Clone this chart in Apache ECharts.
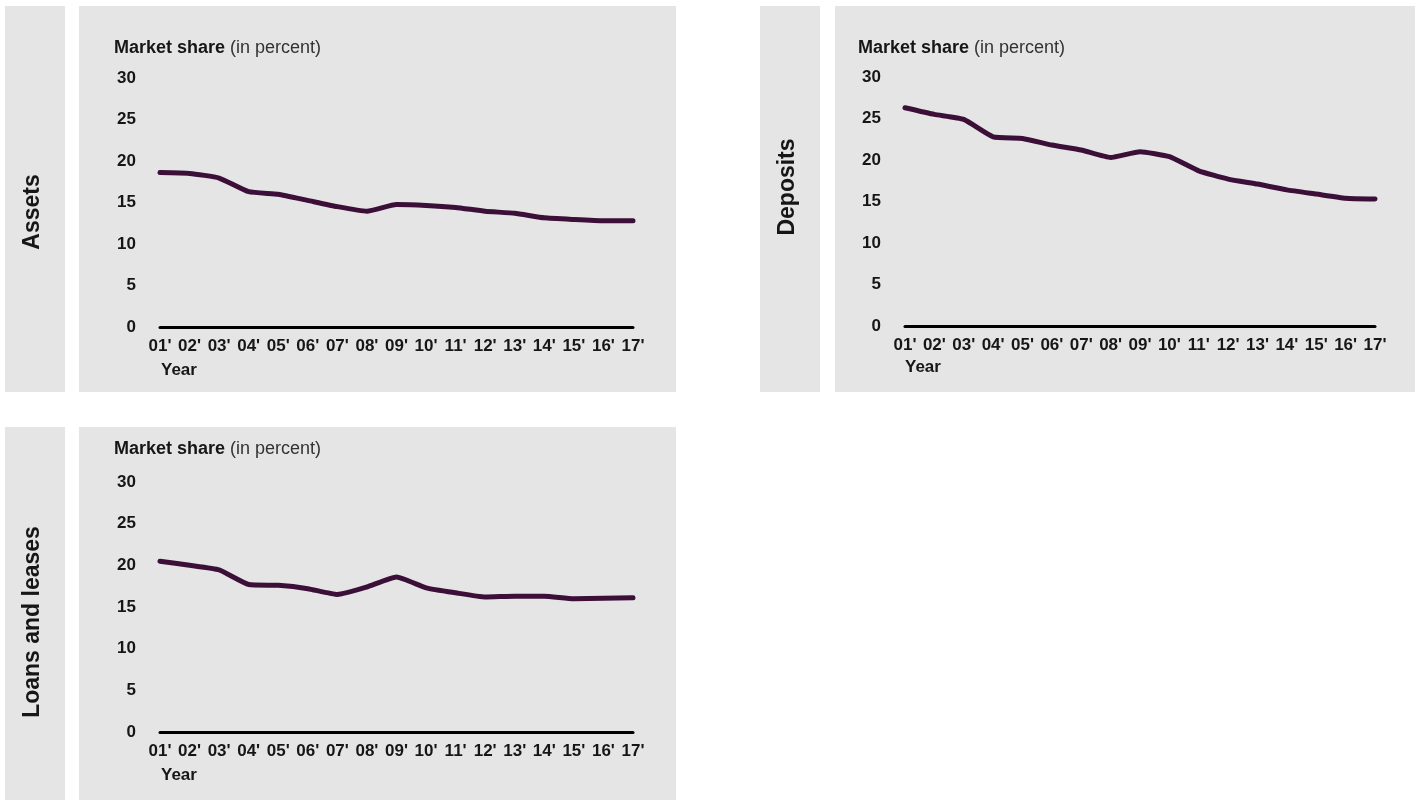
<!DOCTYPE html>
<html>
<head>
<meta charset="utf-8">
<title>Market share</title>
<script src="https://cdn.jsdelivr.net/npm/echarts@6/dist/echarts.min.js"></script>
<style>
  html, body { margin: 0; padding: 0; background: #ffffff; }
  #chart { width: 1418px; height: 802px; }
</style>
</head>
<body>
<div id="chart"></div>
<script>
// Year labels along the horizontal axis
const years = ["01'", "02'", "03'", "04'", "05'", "06'", "07'", "08'", "09'",
               "10'", "11'", "12'", "13'", "14'", "15'", "16'", "17'"];

// Market share series (in percent)
const assets   = [18.6, 18.5, 17.95, 16.3, 16.0, 15.25, 14.5, 13.95, 14.75, 14.65, 14.4, 13.95, 13.7, 13.15, 12.95, 12.8, 12.8];
const deposits = [26.3, 25.5, 24.9, 22.8, 22.6, 21.8, 21.2, 20.3, 21.0, 20.4, 18.7, 17.7, 17.1, 16.4, 15.9, 15.4, 15.3];
const loans    = [20.5, 20.0, 19.45, 17.7, 17.6, 17.2, 16.5, 17.4, 18.6, 17.3, 16.7, 16.2, 16.3, 16.3, 16.0, 16.05, 16.1];

// Panel names and value axis ticks
const panelNames = ['Assets', 'Deposits', 'Loans and leases'];
const yTicks = [0, 5, 10, 15, 20, 25, 30];

const FONT = '"Liberation Sans", Arial, Helvetica, sans-serif';
const PANEL_BG = '#e5e5e5';
const LINE_COLOR = '#3b0f38';
const TEXT_COLOR = '#161616';

// Panel layout: side strip, main box, plot area, caption positions
const panels = [
  { strip: [5, 6, 60, 386],   box: [79, 6, 597, 386],   grid: { left: 160, top: 78, width: 473, height: 249 },
    nameY: 212, title: [114, 38], year: [161, 360], data: assets },
  { strip: [760, 6, 60, 386], box: [835, 6, 580, 386],  grid: { left: 905, top: 77, width: 470, height: 249 },
    nameY: 187, title: [858, 38], year: [905, 357], data: deposits },
  { strip: [5, 427, 60, 373], box: [79, 427, 597, 373], grid: { left: 160, top: 482, width: 473, height: 250 },
    nameY: 622, title: [114, 439], year: [161, 765], data: loans }
];

const graphic = [];
const grid = [], xAxis = [], yAxis = [], series = [], title = [];

panels.forEach((p, i) => {
  graphic.push({ type: 'rect', z: -10, silent: true,
    shape: { x: p.strip[0], y: p.strip[1], width: p.strip[2], height: p.strip[3] },
    style: { fill: PANEL_BG } });
  graphic.push({ type: 'rect', z: -10, silent: true,
    shape: { x: p.box[0], y: p.box[1], width: p.box[2], height: p.box[3] },
    style: { fill: PANEL_BG } });
  // Vertical panel name inside the side strip
  graphic.push({ type: 'text', z: 10, silent: true,
    x: p.strip[0] + 28, y: p.nameY, rotation: Math.PI / 2,
    style: { text: panelNames[i], font: 'bold 23px ' + FONT, fill: TEXT_COLOR,
             align: 'center', verticalAlign: 'middle' } });

  title.push({
    left: p.title[0], top: p.title[1], padding: 0,
    text: '{b|Market share} {n|(in percent)}',
    textStyle: { rich: {
      b: { fontFamily: FONT, fontWeight: 'bold', fontSize: 18, color: TEXT_COLOR, lineHeight: 20 },
      n: { fontFamily: FONT, fontWeight: 'normal', fontSize: 18, color: '#333333', lineHeight: 20 }
    } }
  });
  title.push({
    left: p.year[0], top: p.year[1], padding: 0,
    text: 'Year',
    textStyle: { fontFamily: FONT, fontWeight: 'bold', fontSize: 17, color: TEXT_COLOR, lineHeight: 20 }
  });

  grid.push(Object.assign({ containLabel: false }, p.grid));
  xAxis.push({
    type: 'category', gridIndex: i, data: years, boundaryGap: false,
    axisLine: { show: true, lineStyle: { color: '#000000', width: 3 } },
    axisTick: { show: false },
    axisLabel: { margin: 11, interval: 0, fontFamily: FONT, fontWeight: 'bold', fontSize: 17, color: TEXT_COLOR },
    splitLine: { show: false }
  });
  yAxis.push({
    type: 'value', gridIndex: i, min: yTicks[0], max: yTicks[yTicks.length - 1], interval: yTicks[1] - yTicks[0],
    axisLine: { show: false }, axisTick: { show: false }, splitLine: { show: false },
    axisLabel: { margin: 24, fontFamily: FONT, fontWeight: 'bold', fontSize: 17, color: TEXT_COLOR }
  });
  series.push({
    type: 'line', xAxisIndex: i, yAxisIndex: i, data: p.data,
    showSymbol: false, smooth: 0.15, silent: true,
    lineStyle: { color: LINE_COLOR, width: 5, cap: 'round', join: 'round' }
  });
});

const chart = echarts.init(document.getElementById('chart'), null, { renderer: 'canvas' });
chart.setOption({
  backgroundColor: '#ffffff',
  animation: false,
  title, grid, xAxis, yAxis, series, graphic
});
</script>
</body>
</html>
